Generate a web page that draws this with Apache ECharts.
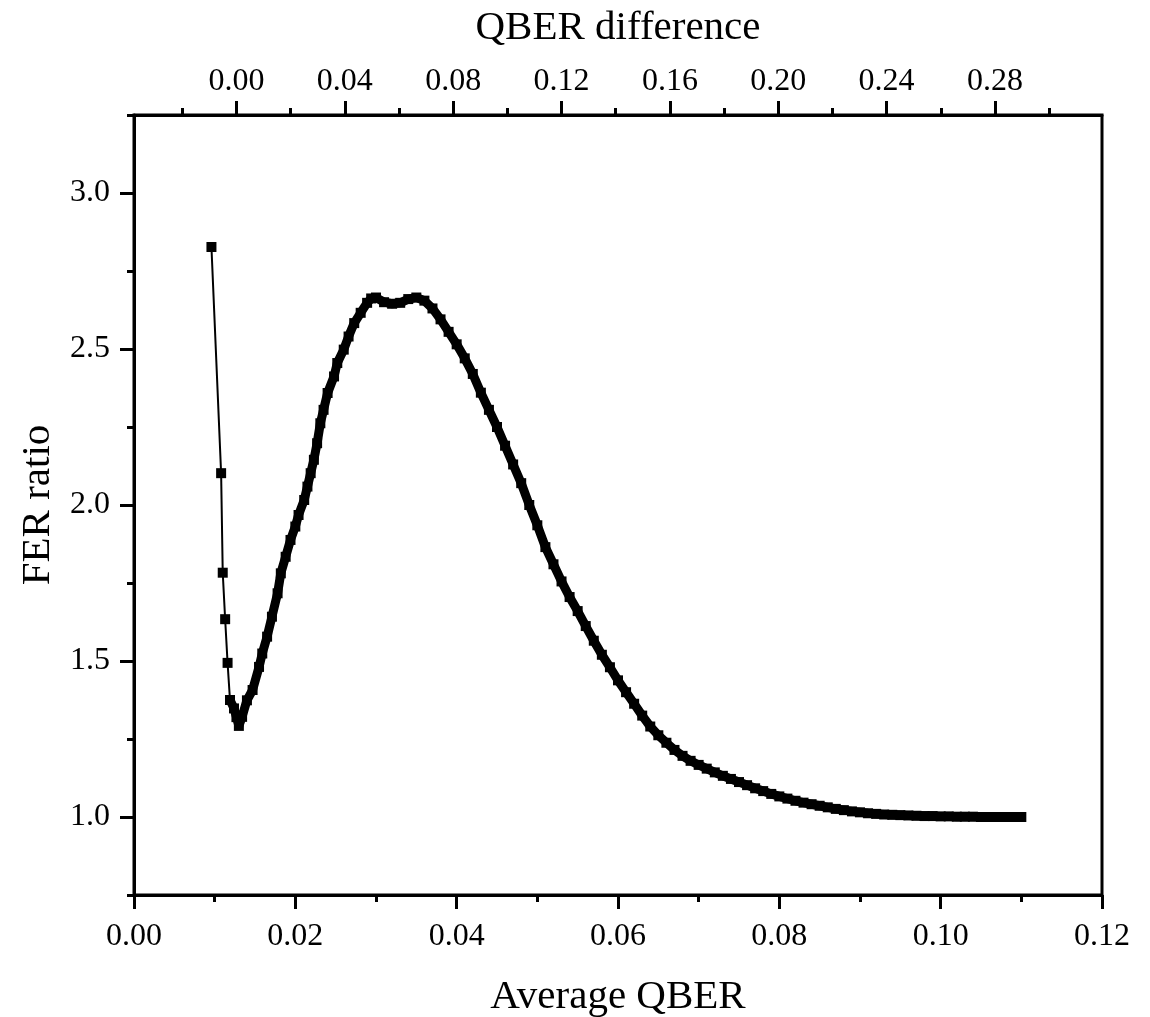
<!DOCTYPE html>
<html>
<head>
<meta charset="utf-8">
<script src="https://cdn.jsdelivr.net/npm/echarts@6/dist/echarts.min.js"></script>
<style>
  html, body { margin: 0; padding: 0; background: #fff; }
  #chart { width: 1150px; height: 1017px; }
</style>
</head>
<body>
<div id="chart"></div>
<script>
// Average QBER (bottom axis)
const qber = [
  0.0096, 0.0108, 0.0110, 0.0113, 0.0116, 0.0119,
  0.0124, 0.0127, 0.0130, 0.0134, 0.0140, 0.0147, 0.0155, 0.0159, 0.0165, 0.0171,
  0.0178, 0.0182, 0.0188, 0.0194, 0.0200, 0.0204, 0.0211, 0.0215, 0.0219, 0.0223,
  0.0227, 0.0231, 0.0235, 0.0240, 0.0248, 0.0252, 0.0260, 0.0266, 0.0273, 0.0281,
  0.0289, 0.0294,
  0.030, 0.031, 0.032, 0.033, 0.034, 0.035, 0.036, 0.037, 0.038, 0.039,
  0.040, 0.041, 0.042, 0.043, 0.044, 0.045, 0.046, 0.047, 0.048, 0.049,
  0.050, 0.051, 0.052, 0.053, 0.054, 0.055, 0.056, 0.057, 0.058, 0.059,
  0.060, 0.061, 0.062, 0.063, 0.064, 0.065, 0.066, 0.067, 0.068, 0.069,
  0.070, 0.071, 0.072, 0.073, 0.074, 0.075, 0.076, 0.077, 0.078, 0.079,
  0.080, 0.081, 0.082, 0.083, 0.084, 0.085, 0.086, 0.087, 0.088, 0.089,
  0.090, 0.091, 0.092, 0.093, 0.094, 0.095, 0.096, 0.097, 0.098, 0.099,
  0.100, 0.101, 0.102, 0.103, 0.104, 0.105, 0.106, 0.107, 0.108, 0.109, 0.110
];

// FER ratio
const ferRatio = [
  2.827, 2.102, 1.783, 1.634, 1.494, 1.375,
  1.348, 1.320, 1.292, 1.321, 1.374, 1.407, 1.481, 1.524, 1.578, 1.642,
  1.717, 1.781, 1.834, 1.888, 1.931, 1.968, 2.016, 2.059, 2.102, 2.145,
  2.198, 2.262, 2.305, 2.359, 2.412, 2.455, 2.498, 2.540, 2.583, 2.616,
  2.648, 2.662,
  2.665, 2.650, 2.645, 2.648, 2.660, 2.665, 2.655, 2.630, 2.595, 2.555,
  2.515, 2.470, 2.420, 2.360, 2.305, 2.250, 2.190, 2.130, 2.070, 2.000,
  1.935, 1.865, 1.810, 1.755, 1.705, 1.660, 1.612, 1.565, 1.520, 1.480,
  1.438, 1.400, 1.363, 1.325, 1.290, 1.262, 1.238, 1.215, 1.196, 1.180,
  1.167, 1.155, 1.143, 1.132, 1.122, 1.112, 1.102, 1.092, 1.083, 1.074,
  1.066, 1.059, 1.052, 1.046, 1.041, 1.036, 1.031, 1.026, 1.022, 1.018,
  1.015, 1.012, 1.010, 1.008, 1.007, 1.006, 1.005, 1.004, 1.003, 1.003,
  1.002, 1.002, 1.001, 1.001, 1.001, 1.000, 1.000, 1.000, 1.000, 1.000, 1.000
];

// tick labels
const bottomTicks = [0, 0.02, 0.04, 0.06, 0.08, 0.10, 0.12];
const bottomMinor = [0.01, 0.03, 0.05, 0.07, 0.09, 0.11];
const topTicks = [0, 0.04, 0.08, 0.12, 0.16, 0.20, 0.24, 0.28];
const topMinor = [-0.02, 0.02, 0.06, 0.10, 0.14, 0.18, 0.22, 0.26, 0.30];
const yTicks = [1.0, 1.5, 2.0, 2.5, 3.0];
const yMinor = [0.75, 1.25, 1.75, 2.25, 2.75, 3.25];

const FONT = "Liberation Serif";
const points = qber.map((x, i) => [x, ferRatio[i]]);
const densePart = points.slice(5);

const chart = echarts.init(document.getElementById("chart"));

const lineStyle = { color: "#000", width: 3 };
const labelStyle = { color: "#000", fontFamily: FONT, fontSize: 32 };
const nameStyle = { color: "#000", fontFamily: FONT, fontSize: 41 };
const tickStyle = { width: 3, color: "#000" };

const option = {
  animation: false,
  backgroundColor: "#fff",
  grid: {
    left: 134, right: 48, top: 115, bottom: 122,
    outerBoundsMode: "none",
    show: true, borderColor: "#000", borderWidth: 3
  },
  xAxis: [
    {
      type: "value", position: "bottom", min: 0, max: 0.12,
      name: "Average QBER", nameLocation: "middle", nameGap: 82,
      nameTextStyle: nameStyle,
      axisLine: { show: true, onZero: false, lineStyle: lineStyle },
      axisTick: { show: true, length: 14, lineStyle: tickStyle, customValues: bottomTicks },
      axisLabel: Object.assign({ margin: 26, customValues: bottomTicks, formatter: v => v.toFixed(2) }, labelStyle),
      splitLine: { show: false }
    },
    {
      type: "value", position: "top", min: -0.0378, max: 0.3195,
      name: "QBER difference", nameLocation: "middle", nameGap: 66,
      nameTextStyle: nameStyle,
      axisLine: { show: true, onZero: false, lineStyle: lineStyle },
      axisTick: { show: true, length: 14, lineStyle: tickStyle, customValues: topTicks },
      axisLabel: Object.assign({ margin: 17, customValues: topTicks, formatter: v => v.toFixed(2) }, labelStyle),
      splitLine: { show: false }
    },
    {
      type: "value", position: "bottom", min: 0, max: 0.12,
      axisLine: { show: false, onZero: false },
      axisTick: { show: true, length: 7, lineStyle: tickStyle, customValues: bottomMinor },
      axisLabel: { show: false },
      splitLine: { show: false }
    },
    {
      type: "value", position: "top", min: -0.0378, max: 0.3195,
      axisLine: { show: false, onZero: false },
      axisTick: { show: true, length: 7, lineStyle: tickStyle, customValues: topMinor },
      axisLabel: { show: false },
      splitLine: { show: false }
    }
  ],
  yAxis: [
    {
      type: "value", position: "left", min: 0.75, max: 3.25,
      name: "FER ratio", nameLocation: "middle", nameGap: 72,
      nameTextStyle: nameStyle,
      axisLine: { show: true, onZero: false, lineStyle: lineStyle },
      axisTick: { show: true, length: 14, lineStyle: tickStyle, customValues: yTicks },
      axisLabel: Object.assign({ margin: 24, customValues: yTicks, formatter: v => v.toFixed(1) }, labelStyle),
      splitLine: { show: false }
    },
    {
      type: "value", position: "left", min: 0.75, max: 3.25, offset: 0,
      axisLine: { show: false, onZero: false },
      axisTick: { show: true, length: 7, lineStyle: tickStyle, customValues: yMinor },
      axisLabel: { show: false },
      splitLine: { show: false }
    }
  ],
  series: [
    {
      // thick underlay so the dense markers merge into a band
      type: "line", xAxisIndex: 0, yAxisIndex: 0,
      data: densePart, symbol: "none", z: 1,
      lineStyle: { color: "#000", width: 9 }
    },
    {
      type: "line", xAxisIndex: 0, yAxisIndex: 0,
      data: points, symbol: "rect", symbolSize: 10, z: 2,
      lineStyle: { color: "#000", width: 2 },
      itemStyle: { color: "#000" }
    }
  ]
};

chart.setOption(option);

window.addEventListener("resize", function () {
  chart.resize();
});
</script>
</body>
</html>
